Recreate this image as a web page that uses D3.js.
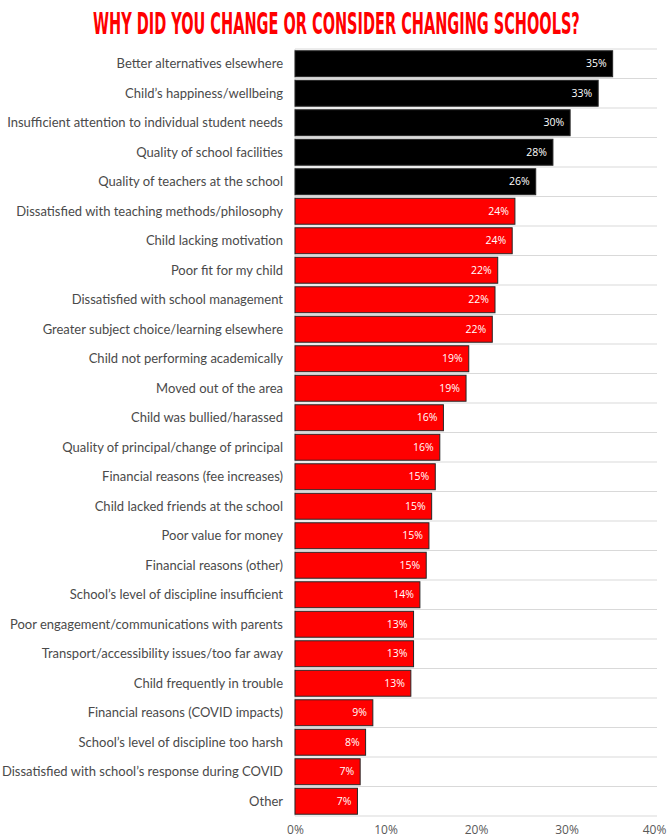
<!DOCTYPE html>
<html>
<head>
<meta charset="utf-8">
<script src="https://cdn.jsdelivr.net/npm/d3@7/dist/d3.min.js"></script>
<style>
  html, body { margin: 0; padding: 0; background: #fff; }
  svg { display: block; }
</style>
</head>
<body>
<svg id="chart" width="667" height="837"></svg>
<script>
const categories = [
  "Better alternatives elsewhere",
  "Child\u2019s happiness/wellbeing",
  "Insufficient attention to individual student needs",
  "Quality of school facilities",
  "Quality of teachers at the school",
  "Dissatisfied with teaching methods/philosophy",
  "Child lacking motivation",
  "Poor fit for my child",
  "Dissatisfied with school management",
  "Greater subject choice/learning elsewhere",
  "Child not performing academically",
  "Moved out of the area",
  "Child was bullied/harassed",
  "Quality of principal/change of principal",
  "Financial reasons (fee increases)",
  "Child lacked friends at the school",
  "Poor value for money",
  "Financial reasons (other)",
  "School\u2019s level of discipline insufficient",
  "Poor engagement/communications with parents",
  "Transport/accessibility issues/too far away",
  "Child frequently in trouble",
  "Financial reasons (COVID impacts)",
  "School\u2019s level of discipline too harsh",
  "Dissatisfied with school\u2019s response during COVID",
  "Other"
];
const values = [35.1, 33.5, 30.4, 28.5, 26.6, 24.3, 24.0, 22.4, 22.1, 21.8, 19.2, 18.9, 16.4, 16.0, 15.5, 15.1, 14.8, 14.5, 13.8, 13.1, 13.1, 12.8, 8.6, 7.8, 7.2, 6.9];
const valueLabels = ["35%","33%","30%","28%","26%","24%","24%","22%","22%","22%","19%","19%","16%","16%","15%","15%","15%","15%","14%","13%","13%","13%","9%","8%","7%","7%"];
const highlightCount = 5;
const tickValues = [0, 10, 20, 30, 40];
const title = "WHY DID YOU CHANGE OR CONSIDER CHANGING SCHOOLS?";

const data = categories.map((c, i) => ({ cat: c, v: values[i], lab: valueLabels[i], top: i < highlightCount }));

const svg = d3.select("#chart");
const x = d3.scaleLinear().domain([0, 40]).range([295, 657]);
const y = d3.scaleBand().domain(categories).range([49, 816]).paddingInner(0.12).paddingOuter(0.06);

// Title (condensed by horizontal scaling so the box matches the drawn text)
const titleG = svg.append("g");
const titleT = titleG.append("text")
  .attr("x", 0).attr("y", 0)
  .style("font-family", "'Liberation Sans Narrow', 'DejaVu Sans Condensed', sans-serif")
  .style("font-weight", "bold").style("font-size", "30px")
  .attr("fill", "#ff0000")
  .text(title);
const natW = titleT.node().getComputedTextLength();
const sx = 487 / natW;
titleG.attr("transform", `translate(93,33.5) scale(${sx},1)`);

// Row gridlines
const gridG = svg.append("g");
d3.range(categories.length + 1).forEach(i => {
  const yy = y.range()[0] + i * (y.range()[1] - y.range()[0]) / categories.length;
  gridG.append("line")
    .attr("x1", x(0)).attr("x2", x(40))
    .attr("y1", yy).attr("y2", yy)
    .attr("stroke", "#d9d9d9").attr("stroke-width", 1);
});
gridG.append("line")
  .attr("x1", x(0)).attr("x2", x(0))
  .attr("y1", y.range()[0]).attr("y2", y.range()[1])
  .attr("stroke", "#d9d9d9").attr("stroke-width", 1);

// Bars
svg.append("g").selectAll("rect").data(data).join("rect")
  .attr("x", x(0))
  .attr("y", d => y(d.cat))
  .attr("width", d => x(d.v) - x(0))
  .attr("height", y.bandwidth())
  .attr("fill", d => d.top ? "#000000" : "#ff0000")
  .attr("stroke", "#262626").attr("stroke-width", 1);

// Value labels
svg.append("g").selectAll("text").data(data).join("text")
  .attr("x", d => x(d.v) - 6)
  .attr("y", d => y(d.cat) + y.bandwidth() / 2)
  .attr("dy", "0.35em")
  .attr("text-anchor", "end")
  .style("font-family", "'Open Sans', Lato, sans-serif")
  .style("font-size", "10.5px")
  .attr("fill", "#ffffff")
  .text(d => d.lab);

// Category labels
svg.append("g").selectAll("text").data(data).join("text")
  .attr("x", 283)
  .attr("y", d => y(d.cat) + y.bandwidth() / 2)
  .attr("dy", "0.35em")
  .attr("text-anchor", "end")
  .style("font-family", "Lato, 'Open Sans', sans-serif")
  .style("font-size", "13px")
  .attr("fill", "#4a4a4a")
  .text(d => d.cat);

// X axis
const axis = d3.axisBottom(x).tickValues(tickValues).tickFormat(d => d + "%").tickSize(0).tickPadding(0);
const ax = svg.append("g").attr("transform", "translate(0,825)").call(axis);
ax.select(".domain").remove();
ax.selectAll("text")
  .style("font-family", "'Open Sans', Lato, sans-serif")
  .style("font-size", "12px")
  .attr("fill", "#595959");
ax.selectAll(".tick").filter(d => d === 40).select("text").attr("dx", -3);
</script>
</body>
</html>
